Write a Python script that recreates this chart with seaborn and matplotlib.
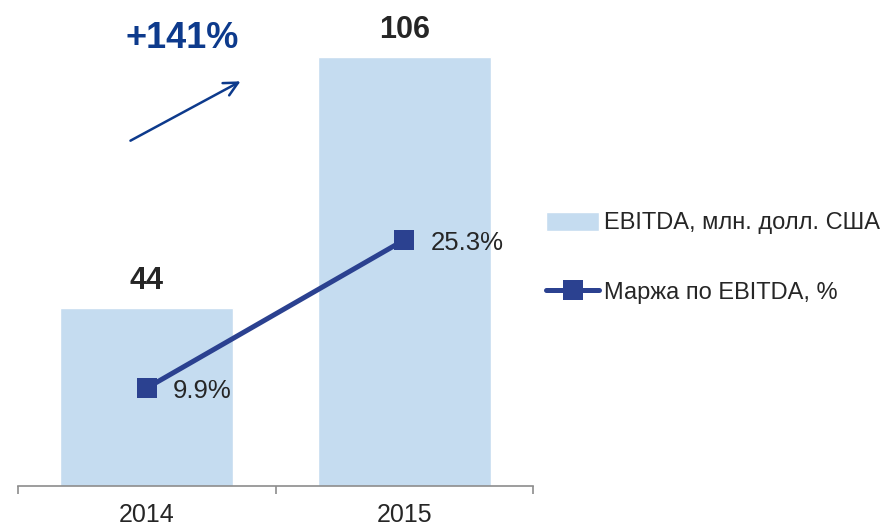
import numpy as np
import matplotlib
matplotlib.use("Agg")
import matplotlib.pyplot as plt
import seaborn as sns

# data
years = ["2014", "2015"]
ebitda = [44, 106]
margin = [9.9, 25.3]
growth_label = "+141%"
bar_name = "EBITDA, млн. долл. США"
line_name = "Маржа по EBITDA, %"

BAR_COLOR = "#C5DCF0"
LINE_COLOR = "#2B4190"
ACCENT = "#0D3A8C"
TEXT = "#262626"

sns.set_style("white")
plt.rcParams["font.family"] = ["Liberation Sans", "DejaVu Sans"]

W, H = 887, 526
fig = plt.figure(figsize=(W / 100, H / 100), dpi=100)
ax = fig.add_axes([18 / W, 1 - 486 / H, (533 - 18) / W, 466 / H])

# bars
sns.barplot(x=years, y=ebitda, color=BAR_COLOR, width=0.67, saturation=1, ax=ax)
ax.set_xlim(-0.5, 1.5)
ax.set_ylim(0, 115.1)
for i, v in enumerate(ebitda):
    ax.text(i, v + 3, str(v), ha="center", va="bottom", fontsize=22,
            fontweight="bold", color=TEXT)

# margin line on a second axis
ax2 = ax.twinx()
pos = np.arange(len(years))
sns.lineplot(x=pos, y=margin, ax=ax2, color=LINE_COLOR, linewidth=3.6,
             marker="s", markersize=14, markeredgewidth=0, legend=False)
ax2.set_ylim(-0.3, 48.2)
for i, v in enumerate(margin):
    ax2.annotate(f"{v}%", (i, v), xytext=(19, -2), textcoords="offset points",
                 ha="left", va="center", fontsize=18.5, color=TEXT)
ax2.set_yticks([])
ax2.set_ylabel("")
for s in ax2.spines.values():
    s.set_visible(False)

# axis styling
for name in ["left", "right", "top"]:
    ax.spines[name].set_visible(False)
ax.spines["bottom"].set_color("#8C8C8C")
ax.spines["bottom"].set_linewidth(1.2)
ax.set_yticks([])
ax.set_ylabel("")
ax.set_xlabel("")
ax.set_xticks([-0.5, 0.5, 1.5])
ax.set_xticklabels(["", "", ""])
ax.set_xticks(pos, minor=True)
ax.set_xticklabels(years, minor=True, fontsize=18, color=TEXT)
ax.tick_params(axis="x", which="major", direction="out", length=6,
               width=1.2, color="#8C8C8C", bottom=True)
ax.tick_params(axis="x", which="minor", length=0, pad=12)

# growth annotation
fig.text(182 / W, 1 - 39 / H, growth_label, ha="center", va="center",
         fontsize=26, fontweight="bold", color=ACCENT)
fig.add_artist(matplotlib.patches.FancyArrowPatch(
    (128 / W, 1 - 142 / H), (243 / W, 1 - 80 / H),
    transform=fig.transFigure, arrowstyle="->,head_length=10,head_width=5",
    color=ACCENT, linewidth=1.8))

# legend
handles = [ax.patches[0], ax2.lines[0]]
fig.legend(handles, [bar_name, line_name], loc="center left",
           bbox_to_anchor=(546 / W, 1 - 258 / H), frameon=False,
           fontsize=17, handlelength=2.25, handleheight=0.85,
           handletextpad=0.2, labelspacing=2.0, borderpad=0,
           borderaxespad=0, labelcolor=TEXT)

fig.savefig("out.png", dpi=100)
